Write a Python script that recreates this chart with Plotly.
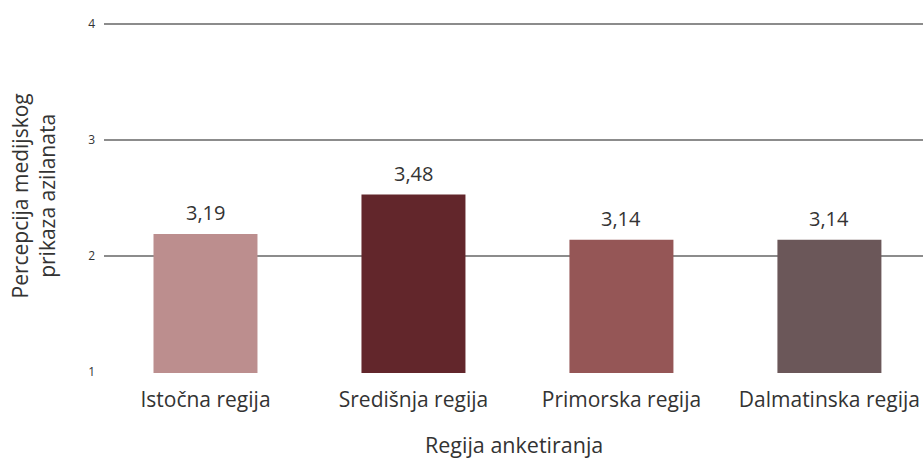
import plotly.graph_objects as go

# dados do gráfico
regije = ["Istočna regija", "Središnja regija", "Primorska regija", "Dalmatinska regija"]
alturas = [3.19, 3.53, 3.14, 3.14]
rotulos_valor = ["3,19", "3,48", "3,14", "3,14"]
boje = ["#bc8e8e", "#62262b", "#955656", "#6b5759"]

# os rótulos do eixo y no original estão deslocados de 1 em relação aos valores
y_ticks = [2, 3, 4, 5]
y_tick_labels = ["1", "2", "3", "4"]

fonte = "Open Sans, sans-serif"
cor_texto = "#333333"

fig = go.Figure()

fig.add_trace(go.Bar(
    x=regije,
    y=alturas,
    marker=dict(color=boje, line=dict(width=0)),
    width=0.5,
    hoverinfo="skip",
))

# rótulos de valor acima das barras
rotulos = [
    dict(x=r, y=v, text=t, yanchor="bottom", yshift=6,
         showarrow=False, font=dict(size=20, color=cor_texto))
    for r, v, t in zip(regije, alturas, rotulos_valor)
]

fig.update_layout(
    width=923,
    height=458,
    margin=dict(l=104, r=0, t=20, b=85, autoexpand=False),
    plot_bgcolor="white",
    paper_bgcolor="white",
    showlegend=False,
    font=dict(family=fonte, color=cor_texto),
    xaxis=dict(
        range=[-0.488, 3.45],
        showgrid=False,
        showline=False,
        ticks="",
        automargin=False,
        ticklabelstandoff=12,
        tickfont=dict(size=21, color=cor_texto),
    ),
    yaxis=dict(
        range=[1.992, 5.034],
        tickvals=y_ticks,
        ticktext=y_tick_labels,
        tickfont=dict(size=12, color=cor_texto),
        showgrid=True,
        gridcolor="#8c8c8c",
        gridwidth=1.5,
        zeroline=False,
        showline=False,
        automargin=False,
        ticklabelstandoff=8,
    ),
    annotations=rotulos + [
        dict(text="Regija anketiranja", xref="paper", yref="paper", x=0.5, y=0,
             yanchor="middle", yshift=-71, showarrow=False,
             font=dict(size=21.5, color=cor_texto)),
        dict(text="Percepcija medijskog<br>prikaza azilanata", xref="paper", yref="paper",
             x=0, y=0.5, xanchor="center", xshift=-71, textangle=-90, showarrow=False,
             font=dict(size=21, color=cor_texto)),
    ],
)

fig.write_html("out.html", config={"displayModeBar": False},
               post_script="document.body.style.margin='0';")
